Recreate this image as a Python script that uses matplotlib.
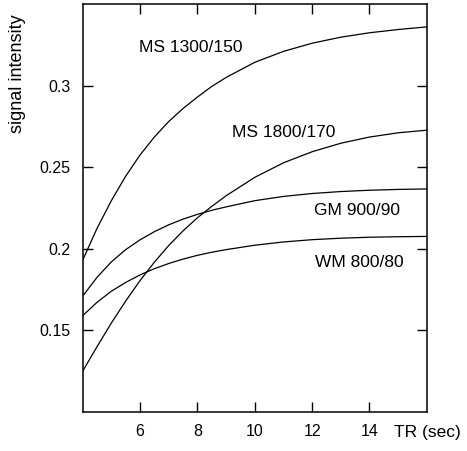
import matplotlib
matplotlib.use('Agg')
import matplotlib.pyplot as plt

plt.rcParams['font.family'] = ['Liberation Sans', 'DejaVu Sans']

# TR in seconds, signal intensities
tr = [4, 4.5, 5, 5.5, 6, 6.5, 7, 7.5, 8, 8.5, 9, 10, 11, 12, 13, 14, 15, 16]
ms_1300 = [0.193, 0.2125, 0.2295, 0.2445, 0.2575, 0.2685, 0.278, 0.286, 0.293,
           0.2995, 0.305, 0.3143, 0.321, 0.326, 0.3297, 0.3324, 0.3344, 0.336]
ms_1800 = [0.125, 0.140, 0.1545, 0.168, 0.1805, 0.1918, 0.202, 0.211, 0.219,
           0.226, 0.2325, 0.2438, 0.2527, 0.2595, 0.2647, 0.2685, 0.2711, 0.2727]
gm_900 = [0.171, 0.1825, 0.192, 0.1995, 0.2055, 0.2105, 0.2147, 0.2182, 0.2211,
          0.2236, 0.2257, 0.2295, 0.2321, 0.2339, 0.2351, 0.2359, 0.2364, 0.2367]
wm_800 = [0.159, 0.1672, 0.174, 0.1794, 0.184, 0.1878, 0.191, 0.1937, 0.196,
          0.1979, 0.1995, 0.2022, 0.2042, 0.2056, 0.2065, 0.2071, 0.2074, 0.2076]

curves = [ms_1300, ms_1800, gm_900, wm_800]
labels = ['MS 1300/150', 'MS 1800/170', 'GM 900/90', 'WM 800/80']
label_pos = [(5.97, 0.3235), (9.21, 0.2715), (12.07, 0.2236), (12.1, 0.1917)]

fig = plt.figure(figsize=(4.67, 4.51), dpi=100)
ax = fig.add_axes([0.177, 0.0865, 0.737, 0.9045])

for y, name, (lx, ly) in zip(curves, labels, label_pos):
    ax.plot(tr, y, color='black', lw=0.9)
    ax.text(lx, ly, name, fontsize=12.5, ha='left', va='center')

ax.set_xlim(4, 16)
ax.set_ylim(0.1, 0.35)
ax.set_xticks([6, 8, 10, 12, 14])
ax.set_yticks([0.15, 0.2, 0.25, 0.3])
ax.set_yticklabels(['0.15', '0.2', '0.25', '0.3'])
ax.tick_params(direction='in', length=7, width=1, top=True, right=True,
               labelsize=11.5, pad=9)
for s in ax.spines.values():
    s.set_linewidth(1.1)

fig.text(18 / 467, 1 - 74 / 451, 'signal intensity', rotation=90,
         fontsize=13, ha='center', va='center')
fig.text(427 / 467, 1 - 433 / 451, 'TR (sec)', fontsize=12.5,
         ha='center', va='center')

fig.savefig('out.png', dpi=100)
